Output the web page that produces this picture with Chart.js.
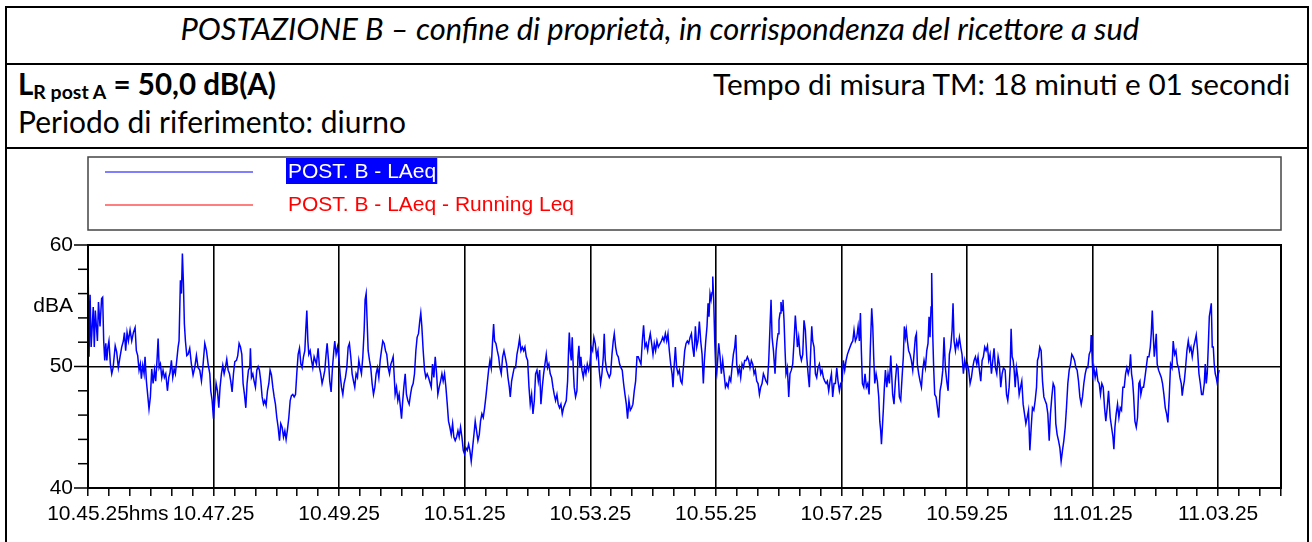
<!DOCTYPE html>
<html>
<head>
<meta charset="utf-8">
<script src="https://cdn.jsdelivr.net/npm/chart.js@4.4.1/dist/chart.umd.min.js"></script>
<style>
  html, body { margin: 0; padding: 0; background: #fff; }
  body { width: 1312px; height: 542px; position: relative; overflow: hidden; font-family: Lato, 'Noto Sans', sans-serif; color: #000; }
  .frame { position: absolute; left: 5px; top: 6px; width: 1304px; height: 600px; border: 2px solid #000; box-sizing: border-box; }
  .rule { position: absolute; left: 5px; width: 1304px; height: 2px; background: #000; }
  .txt { position: absolute; white-space: nowrap; line-height: 1; font-size: 24px; }
  #title { font-style: italic; }
  #lr { font-weight: bold; }
  #lr sub { font-size: 0.66em; vertical-align: -0.22em; line-height: 0; }
  #chart { position: absolute; left: 0; top: 0; }
</style>
</head>
<body>
<div class="frame"></div>
<div class="rule" style="top:63px"></div>
<div class="rule" style="top:147px"></div>
<div class="txt" id="title">POSTAZIONE B – confine di proprietà, in corrispondenza del ricettore a sud</div>
<div class="txt" id="lr">L<sub>R post A</sub> = 50,0 dB(A)</div>
<div class="txt" id="tm">Tempo di misura TM: 18 minuti e 01 secondi</div>
<div class="txt" id="period">Periodo di riferimento: diurno</div>
<canvas id="chart" width="1312" height="542"></canvas>
<script>
// seconds elapsed since 10.45.25
const elapsedSec = [
  0,1,2,3,5,6,7,9,10,11.5,13,14,15,16,17,18,19,20,21.4,22.7,24,26,27.4,29,30.6,32.2,33.8,34.8,36,37.3,38.6,40.2,41.8,43.4,45,46.2,47.5,48.8,50,51,52.3,53.6,54.5,55.8,57,58.3,59.6,60.9,62.2,63.5,64.7,66,67,68,69.2,70.5,71.7,73,74.3,75.9,77.2,78.4,79.7,81,82.3,83.5,84.8,86.1,87,88.3,89.3,90.2,91.2,92.1,93.1,94.4,95.6,97.2,98.8,100.4,102,103.6,105.2,
  106.8,108.4,110,111.6,113.2,114.8,116.4,117.3,118.6,119.9,121.1,122.4,123.7,125,126.2,127.5,128.8,130.1,131.3,132.6,133.9,135.2,136.4,137.7,139,140.3,141.9,143.1,144.4,145.7,147,148.2,149.5,150.8,152,153.3,154.6,155.2,156.2,157.5,158.7,160,161.3,162.6,163.8,165.1,166.4,167.7,168.9,170.2,171.5,172.8,174,175.3,176.6,177.9,179.1,180.4,181.7,183,184.2,185.5,186.8,188.1,189.3,190.6,191.9,193.2,194.4,195.7,197,198.3,199.5,200.8,202.1,203.4,204.6,205.9,207.2,208.1,209.1,210.1,211,212.3,213.6,214.8,216.1,
  218.3,219.9,221.2,222.4,223.7,225,226.3,227.5,228.5,229.8,231,232.3,233.6,234.9,235.8,237.1,238.4,239.6,240.9,242.2,243.5,244.7,246,247.3,248.6,249.8,251.1,252.4,253.7,254.9,256.2,257.5,258.8,260,261.3,262.6,263.9,264.8,265.8,266.7,267.7,269,270.2,271.5,272.8,274.1,275.3,276.6,277.9,279.2,280.4,281.7,283,284.3,285.5,286.8,288.1,289.4,290.6,291.6,292.5,293.5,294.8,296.1,297.3,298.6,299.6,300.5,301.8,303.1,304.3,305.6,306.9,308.2,309.4,310.7,312,313.3,314.5,315.8,317.1,318,319,320.3,321.6,322.8,324.1,325.4,
  328,329.2,330.5,331.8,333.1,334.3,335.6,336.9,338.2,339.4,340.7,342,343.3,344.5,345.8,347.1,348.4,349.6,350.9,352.2,353.5,354.7,356,357.3,358.6,359.8,361.1,362.4,363.7,364.9,366.2,367.5,368.8,370,371.3,372.6,373.9,375.1,376.4,377.7,379,380.2,381.5,382.8,384.1,385.3,386.6,387.6,388.5,389.8,391.1,392.4,393.6,394.9,396.2,397.5,398.7,400,401.3,402.6,403.5,404.8,406.1,407.3,408.6,409.9,411.2,412.4,413.7,415,416.3,417.5,418.8,420.1,421.4,422.6,423.9,425.2,426.5,427.7,429,430.3,431.6,432.8,434.1,435.4,
  437.9,439.2,440.4,441.7,443,444.3,445.5,446.8,448.1,449.3,450.6,451.9,453.2,454.4,455.7,457,458.3,459.2,459.9,460.8,461.8,462.7,463.7,464.6,465.9,467.2,468.2,469.1,470.1,471,472,473.3,474.5,475.8,477.1,478.4,479.6,480.9,482.2,483.4,484.7,486,487.3,488.5,489.8,491.1,492.4,493.3,494.3,495.6,496.8,498.1,499.4,500.7,501.9,502.9,504.2,505.4,506.7,508,509.3,510.5,511.8,513.1,514.4,515.6,516.9,518.2,519.5,520.7,522,523.3,524.6,525.8,527.1,528.4,529.7,530.9,532.2,533.5,534.8,536,537.3,538.6,539.9,541.1,542.4,543.7,545,
  547.9,549.2,550.4,551.7,553,554.2,555.5,556.8,558.1,559,560,561.3,562.5,563.8,565.1,566.4,567.6,568.9,570.2,571.5,572.7,574,575.3,576.6,577.8,579.1,580.4,581.7,582.9,584.2,585.5,586.8,588,589,590.3,591.5,592.5,593.4,594.4,595.4,596.3,597,597.9,598.9,599.8,600.8,601.7,602.7,604,605.2,606.5,607.8,609.1,610.3,611.6,612.9,614.2,615.4,616.7,618,619,619.9,621.2,622.5,623.7,625,626.3,627.5,628.8,630.1,631.4,632.6,633.9,635.2,636.5,637.7,639,640.3,641.6,642.8,644.1,645.4,646.7,647.9,649.2,650.5,651.8,652.7,653.7,655,
  656.5,657.5,658.4,659.4,660.3,661.3,662.2,663.2,664.1,665.1,666.1,667,668.3,669.6,670.8,672.1,673.4,674.7,675.9,676.9,677.9,679.1,680.4,681.7,683,684.2,685.5,686.8,688.1,689.3,690.6,691.6,692.5,693.8,695.1,696.3,697.6,698.9,700.2,701.4,702.7,704,705.3,706.5,707.8,709.1,710.4,711.6,712.9,714.2,715.5,716.7,718,719.3,720.6,721.8,723.1,724.4,725.7,726.9,728.2,729.5,730.8,732,733.3,734.6,735.9,737.1,738.1,739,740,741.3,742.5,743.8,745.1,746.4,747.6,748.9,749.9,750.8,751.8,753.1,754.3,755.6,756.6,757.5,758.2,759.1,760.1,761,762,763.3,764.5,765.8,767.1,
  768.9,770.2,771.5,772.8,774,775.3,776.6,777.9,779.1,780.1,781.1,782,783,784.2,785.5,786.8,788.1,789.3,790.6,791.6,792.5,793.8,795.1,796.4,797.6,798.9,800.2,801.5,802.7,803.7,804.6,805.6,806.2,807.2,808.1,809.1,810.4,811.7,812.9,814.2,815.5,816.8,818,819.3,820.6,821.9,823.1,824.4,825.7,826.6,827.6,828.9,830.1,831.4,832.7,834,835.2,836.5,837.8,839.1,840.3,841.6,842.9,844.2,845.4,846.7,848,849.3,850.5,851.8,853.1,854.4,855.6,856.9,858.2,859.5,860.7,862,863.3,864.6,865.8,867.1,868.4,869.7,870.9,872.2,873.5,874.8,
  876.4,877.7,878.9,880.2,881.2,882.1,883.1,884.1,885,886,887.2,888.5,889.8,891.1,892.3,893.6,894.9,896.2,897.4,898.7,900,901.3,902.5,903.8,905.1,906.4,907.3,908.3,909.5,910.8,912.1,913.4,914.6,915.9,917.2,918.5,919.7,921,922.3,923.6,924.8,926.1,927.4,928.7,929.9,931.2,932.5,933.8,935,936.3,937.6,938.9,940.1,941.4,942.7,944,945.2,946.5,947.8,949.1,950.3,951.6,952.9,954.2,955.4,956.7,958,958.6,959.3,960.2,961.2,962.4,963.7,965,966.3,967.5,968.8,970.1,971.4,972.6,973.9,975.2,
  976.8,978.1,979.4,980.3,981.3,982.5,983.8,985.1,986.4,987.6,988.9,990.2,991.5,992.7,994,995.3,996.2,997.2,998.2,999.1,1000.4,1001.7,1002.9,1004.2,1005.2,1006.1,1007.4,1008.7,1010,1011.2,1012.5,1013.8,1015.1,1016,1017,1017.9,1018.9,1019.8,1020.8,1021.7,1023,1024.3,1025.6,1026.8,1028.1,1029.4,1030.7,1031.9,1033.2,1034.5,1035.8,1037,1038.3,1039.6,1040.9,1042.1,1043.4,1044.7,1045.6,1046.6,1047.6,1048.8,1050.1,1051.4,1052.7,1053.9,1055.2,1056.5,1057.8,1059,1060.3,1061.6,1062.9,1064.1,1065.4,1066.7,1067.6,1068.6,1069.5,1070.5,1071.5,1072.4,1073.4,1074.3,1075.3,1076.2,1077.2,1078.1,1079.1,1080.1,1081
];

// LAeq, dB(A)
const laeqDb = [
  59.0,50.8,55.9,51.6,54.9,51.6,54.6,52.1,55.3,53.3,55.6,55.7,52.1,50.5,51.9,50.5,51.6,52.1,50.2,49.4,49.9,51.7,51.2,49.9,50.8,51.6,52.1,52.8,51.3,52.8,52.1,53.0,52.1,52.8,53.2,51.3,50.9,49.7,50.2,49.0,50.1,49.4,50.8,48.8,47.7,46.5,47.5,49.8,48.6,49.7,48.8,50.6,52.3,49.9,50.2,49.1,49.7,49.1,49.4,48.0,49.1,49.5,50.5,49.1,49.8,49.4,50.5,51.6,52.1,57.1,56.0,59.3,56.8,53.5,52.1,50.9,51.0,51.5,50.2,49.3,49.9,50.9,49.9,
  49.7,48.8,50.2,51.9,51.3,50.2,49.4,48.0,47.2,45.7,47.2,48.6,48.0,46.6,48.3,49.4,50.1,49.4,49.9,50.6,49.7,49.4,48.8,47.9,49.4,50.4,50.5,50.9,51.9,51.6,51.0,48.6,47.7,46.6,48.6,49.7,49.9,51.5,49.1,49.4,48.8,48.3,49.7,50.0,49.7,48.8,47.5,46.9,47.2,46.8,48.0,48.6,49.7,49.3,48.3,47.5,46.9,45.8,45.0,43.9,45.3,45.0,44.2,44.7,44.0,44.8,45.8,47.2,47.6,47.7,47.5,47.7,49.4,51.0,51.5,50.2,49.9,50.8,51.3,53.0,54.6,52.1,51.0,51.3,50.5,49.9,50.8,
  50.2,51.5,49.9,49.4,48.6,49.1,49.7,51.0,51.9,50.5,48.8,47.9,49.9,51.3,52.1,51.0,51.6,50.8,49.4,48.3,47.7,48.6,49.1,49.9,51.6,51.9,50.8,49.4,48.8,48.3,49.4,49.1,50.5,49.9,49.4,50.8,53.0,55.5,56.0,53.8,51.3,50.5,49.9,48.6,47.7,48.3,49.4,49.9,49.1,50.5,51.3,52.1,51.9,51.3,51.0,49.9,49.4,50.2,50.5,50.8,49.4,47.7,48.3,47.2,47.7,46.6,45.7,46.9,48.3,49.4,47.7,47.2,46.9,47.7,48.3,48.6,49.4,51.3,52.4,52.7,53.8,54.4,53.3,51.3,49.7,49.1,49.4,49.1,
  48.3,50.2,49.1,50.8,49.4,47.7,48.3,48.8,49.4,48.8,49.4,48.3,46.9,45.5,45.0,44.4,45.3,44.2,43.9,44.2,44.7,44.2,45.0,44.2,43.1,42.8,43.3,43.1,43.6,43.1,42.2,43.3,44.4,45.5,44.7,43.9,44.4,45.5,46.1,45.8,46.6,47.5,48.6,49.7,50.5,49.9,52.1,53.5,52.1,51.9,51.3,50.8,49.9,49.4,50.8,51.3,50.8,50.2,49.1,48.3,47.5,48.8,49.4,49.9,49.9,51.0,51.6,52.3,51.3,51.6,51.3,51.6,50.8,50.5,48.3,46.9,47.7,46.1,47.2,49.4,49.7,48.8,49.7,46.9,48.3,49.4,
  51.0,49.9,50.2,49.4,49.1,48.3,47.7,47.2,47.7,46.9,46.6,46.9,46.1,46.6,46.9,47.2,48.8,51.3,52.8,51.3,50.5,52.4,49.9,48.3,47.5,48.0,50.8,51.7,49.9,50.8,49.7,49.1,49.9,49.4,50.2,49.7,50.2,51.6,51.3,52.4,51.9,50.8,51.3,49.7,48.6,49.4,50.8,52.7,50.5,49.7,49.4,49.1,49.4,51.0,52.1,52.7,51.6,51.0,50.8,50.2,49.9,49.7,48.6,47.7,46.9,45.7,47.2,46.4,46.6,46.9,48.0,48.8,50.8,50.8,50.5,50.2,52.1,53.4,51.6,51.9,51.3,52.1,52.7,51.9,51.0,51.9,51.3,52.1,51.6,
  52.1,52.4,52.1,52.7,52.1,52.7,51.3,50.2,49.4,48.3,49.9,51.6,49.9,49.4,49.7,48.8,48.6,49.9,51.3,51.9,52.1,51.9,52.4,52.7,51.6,50.8,53.3,51.6,52.1,53.7,52.1,51.0,48.6,50.5,52.1,53.3,55.2,54.1,56.0,55.5,56.1,57.4,55.5,52.1,49.9,49.4,50.5,51.9,50.8,49.4,50.5,49.4,48.3,48.6,48.3,49.1,48.8,49.9,51.0,51.6,52.6,50.2,49.4,49.9,49.1,50.2,49.9,50.5,50.5,50.8,50.5,49.9,50.5,50.2,49.4,49.7,48.8,48.6,47.7,48.3,48.6,49.4,49.1,48.8,48.6,50.5,53.5,55.5,52.4,51.3,
  49.4,51.3,52.1,52.7,53.8,54.4,55.3,54.6,55.5,53.8,51.3,49.4,49.9,47.5,49.4,49.7,50.2,52.1,54.2,53.0,51.6,52.4,51.0,50.5,51.0,53.8,53.0,50.8,49.4,48.3,51.3,53.3,52.1,51.6,49.4,49.1,49.9,50.2,49.4,49.7,49.1,48.8,48.6,48.8,48.0,48.8,49.4,47.5,48.6,48.6,49.9,48.8,48.0,48.6,48.8,50.5,49.7,50.5,51.0,51.3,51.6,51.9,52.1,53.0,52.1,52.4,53.3,52.1,54.4,51.3,48.6,48.3,49.4,48.3,48.6,47.7,51.6,54.8,53.3,50.8,48.6,49.4,48.8,47.5,45.5,44.7,43.6,45.0,46.6,48.3,49.7,48.3,49.4,48.6,50.9,
  47.7,46.9,48.8,50.1,49.9,47.5,47.2,49.1,50.8,53.3,52.4,53.0,52.1,51.3,51.0,50.5,49.7,51.0,52.4,52.7,50.2,49.4,48.8,48.3,49.7,50.5,49.9,51.3,51.9,54.1,52.4,54.9,57.7,52.7,49.9,47.7,47.5,46.6,45.8,48.0,48.6,49.7,52.4,49.9,48.8,48.0,51.0,51.6,53.0,55.2,52.1,51.3,52.1,51.6,52.4,51.6,51.0,49.4,50.5,49.9,50.2,49.7,48.6,49.1,49.9,50.5,50.8,50.2,50.8,49.7,48.8,50.5,50.8,51.6,51.3,51.7,50.5,51.0,49.4,50.5,51.5,49.9,49.4,50.8,50.2,48.3,49.4,49.9,
  49.7,47.7,47.2,48.3,49.9,53.1,50.8,50.5,49.7,48.3,49.9,49.1,47.7,48.3,48.8,46.9,46.1,45.3,45.8,46.4,43.1,45.0,46.6,46.4,47.2,48.3,50.5,50.8,51.6,51.3,48.8,47.5,47.2,46.9,46.1,43.9,46.1,47.5,48.6,48.3,45.3,44.4,43.9,43.3,42.2,43.1,43.9,45.0,46.6,48.6,49.7,50.2,51.0,50.8,50.5,49.9,49.7,48.8,47.5,46.9,47.5,48.6,49.4,49.9,49.9,51.0,51.3,52.6,51.3,49.4,49.9,49.1,49.7,48.8,48.6,47.7,48.6,48.3,46.6,45.5,46.6,48.0,
  45.8,45.0,44.2,43.2,45.0,46.1,46.9,45.8,46.6,46.4,48.3,48.3,49.4,49.9,49.4,49.9,51.0,49.4,48.8,47.7,45.5,45.0,45.8,48.6,48.8,47.7,48.3,48.3,49.1,49.9,50.8,50.8,51.6,52.7,54.6,52.7,50.8,51.6,52.7,50.2,49.7,49.4,49.1,48.6,47.7,46.6,46.1,45.4,47.5,50.2,49.9,52.1,51.0,51.3,50.2,49.9,49.1,48.6,47.6,48.3,48.8,49.9,51.3,52.1,51.3,51.6,50.8,51.6,52.1,52.6,51.3,49.4,48.6,47.7,47.7,48.6,50.2,48.6,49.4,51.6,54.1,54.6,55.2,51.6,51.6,50.2,49.4,49.1,48.6,49.4,49.7
];

// running Leq is listed in the legend but not visible in the plot
const runningLeqDb = [];

const seriesLabels = ['POST. B - LAeq', 'POST. B - LAeq - Running Leq'];
const seriesColors = ['#0000ff', '#ff0000'];

const timeTickLabels = ['10.45.25', '10.47.25', '10.49.25', '10.51.25', '10.53.25',
  '10.55.25', '10.57.25', '10.59.25', '11.01.25', '11.03.25'];
const majorStepSec = 120;
const minorStepSec = 20;
const axisEndSec = 1140;
const yTickValues = [40, 42, 44, 46, 48, 50, 52, 54, 55, 56, 58, 60];

const axisFont = { family: "'Liberation Sans', Arial, sans-serif", size: 21 };

// fit the header texts to the widths they take in the original table
function placeText(id, opts) {
  const el = document.getElementById(id);
  const base = parseFloat(getComputedStyle(el).fontSize);
  const w = el.getBoundingClientRect().width;
  const size = base * opts.width / w;
  el.style.fontSize = size.toFixed(2) + 'px';
  el.style.top = (opts.baseline - 0.887 * size).toFixed(1) + 'px';
  if (opts.center != null) el.style.left = (opts.center - opts.width / 2) + 'px';
  if (opts.left != null) el.style.left = opts.left + 'px';
  if (opts.right != null) el.style.left = (opts.right - opts.width) + 'px';
}
placeText('title', { width: 959, center: 660, baseline: 41 });
placeText('lr', { width: 258, left: 18, baseline: 95 });
placeText('tm', { width: 577, right: 1290, baseline: 95 });
placeText('period', { width: 388, left: 18, baseline: 134 });

const xTickValues = [];
for (let t = 0; t <= axisEndSec; t += minorStepSec) xTickValues.push(t);

const points = [];
for (let i = 0; i < Math.min(elapsedSec.length, laeqDb.length); i++) {
  points.push({ x: elapsedSec[i], y: laeqDb[i] });
}

const decor = {
  id: 'decor',
  afterDraw(chart) {
    const { ctx, chartArea: a, scales } = chart;
    ctx.save();
    ctx.strokeStyle = '#000';
    ctx.lineWidth = 2;
    ctx.strokeRect(a.left, a.top, a.right - a.left, a.bottom - a.top);

    // y tick marks: long ones at the labelled values
    ctx.lineWidth = 1.5;
    yTickValues.forEach(v => {
      if (v === 55) return;
      const py = scales.y.getPixelForValue(v);
      const len = v % 10 === 0 ? 14 : 10;
      ctx.beginPath();
      ctx.moveTo(a.left - len, py);
      ctx.lineTo(a.left, py);
      ctx.stroke();
    });

    // "hms" unit glued to the first time label
    const item = scales.x.getLabelItems()[0];
    if (item) {
      ctx.font = `${axisFont.size}px ${axisFont.family}`;
      ctx.fillStyle = '#000';
      ctx.textAlign = 'left';
      ctx.textBaseline = item.options.textBaseline;
      const [lx, ly] = item.options.translation;
      ctx.fillText('hms', lx + ctx.measureText(timeTickLabels[0]).width / 2, ly + item.textOffset);
    }

    // legend box
    ctx.lineWidth = 1.5;
    ctx.strokeStyle = '#444';
    ctx.strokeRect(a.left, 157, a.right - a.left, 73);
    ctx.font = "21px 'Liberation Sans', Arial, sans-serif";
    const rows = [172, 205];
    seriesLabels.forEach((lbl, i) => {
      const ry = rows[i];
      ctx.strokeStyle = seriesColors[i];
      ctx.lineWidth = 1.2;
      ctx.beginPath();
      ctx.moveTo(105, ry);
      ctx.lineTo(253, ry);
      ctx.stroke();
      const w = ctx.measureText(lbl).width;
      if (i === 0) {
        ctx.fillStyle = '#0000ff';
        ctx.fillRect(286, ry - 14, w + 3, 26);
      }
      ctx.fillStyle = i === 0 ? '#fff' : seriesColors[i];
      ctx.textAlign = 'left';
      ctx.textBaseline = 'middle';
      ctx.fillText(lbl, 288, ry);
    });
    ctx.restore();
  }
};

new Chart(document.getElementById('chart'), {
  type: 'line',
  data: {
    datasets: [
      { label: seriesLabels[0], data: points, borderColor: seriesColors[0], borderWidth: 1.5,
        pointRadius: 0, tension: 0, fill: false },
      { label: seriesLabels[1], data: runningLeqDb, borderColor: seriesColors[1], borderWidth: 1.5,
        pointRadius: 0, fill: false }
    ]
  },
  options: {
    responsive: false,
    animation: false,
    devicePixelRatio: 1,
    layout: { padding: { left: 0, top: 245, right: 31, bottom: 0 } },
    plugins: { legend: { display: false }, tooltip: { enabled: false } },
    scales: {
      x: {
        type: 'linear',
        min: 0,
        max: axisEndSec,
        afterBuildTicks: s => { s.ticks = xTickValues.map(v => ({ value: v })); },
        afterFit: s => { s.height = 54; },
        border: { color: '#000', width: 2 },
        grid: {
          color: c => (c.tick && c.tick.value % majorStepSec === 0) ? '#000' : 'rgba(0,0,0,0)',
          lineWidth: 1.6,
          tickColor: '#000',
          tickWidth: 1.5,
          tickLength: 8
        },
        ticks: {
          autoSkip: false,
          maxRotation: 0,
          padding: 6,
          color: '#000',
          font: axisFont,
          callback: v => v % majorStepSec === 0 ? (timeTickLabels[v / majorStepSec] || '') : ''
        }
      },
      y: {
        min: 40,
        max: 60,
        afterBuildTicks: s => { s.ticks = yTickValues.map(v => ({ value: v })); },
        afterFit: s => { s.width = 88; },
        border: { color: '#000', width: 2 },
        grid: {
          color: c => (c.tick && c.tick.value === 50) ? '#000' : 'rgba(0,0,0,0)',
          lineWidth: 1.6,
          drawTicks: false
        },
        ticks: {
          autoSkip: false,
          padding: 15,
          color: '#000',
          font: axisFont,
          callback: v => v === 55 ? 'dBA' : (v % 10 === 0 ? String(v) : '')
        }
      }
    }
  },
  plugins: [decor]
});
</script>
</body>
</html>
